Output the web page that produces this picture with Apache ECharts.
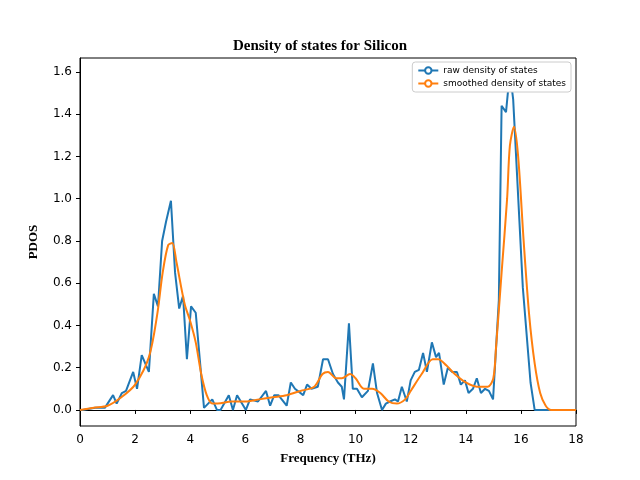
<!DOCTYPE html>
<html>
<head>
<meta charset="utf-8">
<script src="https://cdn.jsdelivr.net/npm/echarts@6/dist/echarts.min.js"></script>
<style>html,body{margin:0;padding:0;background:#fff}#chart{width:640px;height:480px}</style>
</head>
<body>
<div id="chart"></div>
<script>
// raw density of states (frequency THz, PDOS)
var rawFreq = [0, 0.1, 0.55, 0.9, 1.2, 1.33, 1.52, 1.67, 1.93, 2.07, 2.24, 2.5, 2.68, 2.83, 2.98, 3.12, 3.3, 3.45, 3.6, 3.74, 3.88, 4.03, 4.2, 4.5, 4.8, 4.97, 5.1, 5.4, 5.55, 5.7, 6.02, 6.17, 6.46, 6.75, 6.9, 7.05, 7.2, 7.5, 7.65, 7.8, 8.1, 8.24, 8.4, 8.63, 8.82, 9.0, 9.18, 9.36, 9.5, 9.58, 9.76, 9.9, 10.05, 10.23, 10.45, 10.63, 10.78, 10.96, 11.1, 11.25, 11.43, 11.54, 11.68, 11.86, 12.0, 12.15, 12.3, 12.45, 12.59, 12.77, 12.92, 13.03, 13.2, 13.35, 13.5, 13.68, 13.82, 13.97, 14.1, 14.26, 14.4, 14.55, 14.7, 14.84, 14.99, 15.2, 15.3, 15.46, 15.6, 15.72, 16.07, 16.35, 16.5, 17, 17.5, 18];
var rawPdos = [0, 0, 0.01, 0.01, 0.07, 0.03, 0.08, 0.09, 0.18, 0.10, 0.26, 0.18, 0.55, 0.49, 0.80, 0.89, 0.99, 0.65, 0.48, 0.54, 0.24, 0.49, 0.46, 0.01, 0.05, 0, 0, 0.07, 0, 0.07, 0, 0.05, 0.04, 0.09, 0.02, 0.07, 0.07, 0.02, 0.13, 0.10, 0.07, 0.12, 0.10, 0.11, 0.24, 0.24, 0.17, 0.13, 0.11, 0.05, 0.41, 0.10, 0.10, 0.06, 0.09, 0.22, 0.08, 0.00, 0.03, 0.04, 0.05, 0.04, 0.11, 0.04, 0.14, 0.18, 0.19, 0.27, 0.18, 0.32, 0.25, 0.27, 0.12, 0.20, 0.18, 0.18, 0.12, 0.14, 0.08, 0.10, 0.15, 0.08, 0.10, 0.09, 0.05, 0.52, 1.44, 1.41, 1.60, 1.47, 0.58, 0.13, 0, 0, 0, 0];
// smoothed density of states
var smoothFreq = [0, 0.5, 1, 1.5, 2, 2.5, 2.8, 3.0, 3.2, 3.35, 3.5, 3.8, 4.0, 4.2, 4.4, 4.6, 4.8, 5.0, 5.5, 6.0, 6.5, 7.0, 7.5, 8.0, 8.5, 8.8, 9.0, 9.3, 9.5, 9.8, 10.0, 10.3, 10.6, 10.9, 11.2, 11.5, 11.8, 12.0, 12.4, 12.8, 13.0, 13.3, 13.6, 14.0, 14.4, 14.8, 15.0, 15.1, 15.3, 15.5, 15.6, 15.75, 15.9, 16.1, 16.3, 16.5, 16.7, 16.9, 17.1, 18];
var smoothPdos = [0, 0.01, 0.02, 0.06, 0.12, 0.25, 0.45, 0.65, 0.78, 0.79, 0.70, 0.50, 0.42, 0.32, 0.17, 0.07, 0.03, 0.03, 0.04, 0.04, 0.05, 0.06, 0.07, 0.09, 0.11, 0.17, 0.18, 0.15, 0.15, 0.17, 0.15, 0.10, 0.10, 0.08, 0.04, 0.03, 0.05, 0.09, 0.17, 0.24, 0.24, 0.21, 0.17, 0.13, 0.11, 0.11, 0.15, 0.30, 0.65, 1.00, 1.25, 1.34, 1.20, 0.80, 0.45, 0.22, 0.08, 0.02, 0, 0];
var yTicks = [0, 0.2, 0.4, 0.6, 0.8, 1.0, 1.2, 1.4, 1.6];

function pairs(xs, ys) {
  return xs.map(function (x, i) { return [x, ys[i]]; });
}

var chart = echarts.init(document.getElementById('chart'));
var option = {
  animation: false,
  title: {
    text: 'Density of states for Silicon',
    left: 'center',
    top: 34,
    textStyle: { fontFamily: 'Liberation Serif', fontWeight: 'bold', fontSize: 15, color: '#000' }
  },
  legend: {
    orient: 'vertical',
    right: 69,
    top: 62,
    itemWidth: 20,
    itemHeight: 8,
    itemGap: 4,
    padding: [4, 5],
    borderColor: '#ccc',
    borderWidth: 1,
    borderRadius: 3,
    backgroundColor: '#fff',
    textStyle: { fontFamily: 'DejaVu Sans', fontSize: 9, color: '#000' }
  },
  grid: { left: 80, right: 64, top: 58, bottom: 54, show: true, borderColor: '#000', borderWidth: 1 },
  xAxis: {
    type: 'value',
    min: 0,
    max: 18,
    interval: 2,
    name: 'Frequency (THz)',
    nameLocation: 'middle',
    nameGap: 26,
    nameTextStyle: { fontFamily: 'Liberation Serif', fontWeight: 'bold', fontSize: 13, color: '#000' },
    axisLine: { lineStyle: { color: '#000' } },
    axisTick: { length: 4, lineStyle: { color: '#000' } },
    axisLabel: { fontFamily: 'DejaVu Sans', fontSize: 12, color: '#000' },
    splitLine: { show: false }
  },
  yAxis: {
    type: 'value',
    min: -0.076,
    max: 1.666,
    name: 'PDOS',
    nameLocation: 'middle',
    nameGap: 40,
    nameTextStyle: { fontFamily: 'Liberation Serif', fontWeight: 'bold', fontSize: 13, color: '#000' },
    axisLine: { show: true, lineStyle: { color: '#000' } },
    axisTick: { show: true, length: 4, customValues: yTicks, lineStyle: { color: '#000' } },
    axisLabel: {
      customValues: yTicks,
      fontFamily: 'DejaVu Sans', fontSize: 12, color: '#000',
      formatter: function (v) { return v.toFixed(1); }
    },
    splitLine: { show: false }
  },
  series: [{
    name: 'raw density of states',
    type: 'line',
    showSymbol: false,
    lineStyle: { color: '#1f77b4', width: 2 },
    itemStyle: { color: '#1f77b4' },
    data: pairs(rawFreq, rawPdos)
  }, {
    name: 'smoothed density of states',
    type: 'line',
    showSymbol: false,
    smooth: 0.3,
    lineStyle: { color: '#ff7f0e', width: 2 },
    itemStyle: { color: '#ff7f0e' },
    data: pairs(smoothFreq, smoothPdos)
  }]
};
chart.setOption(option);
</script>
</body>
</html>
